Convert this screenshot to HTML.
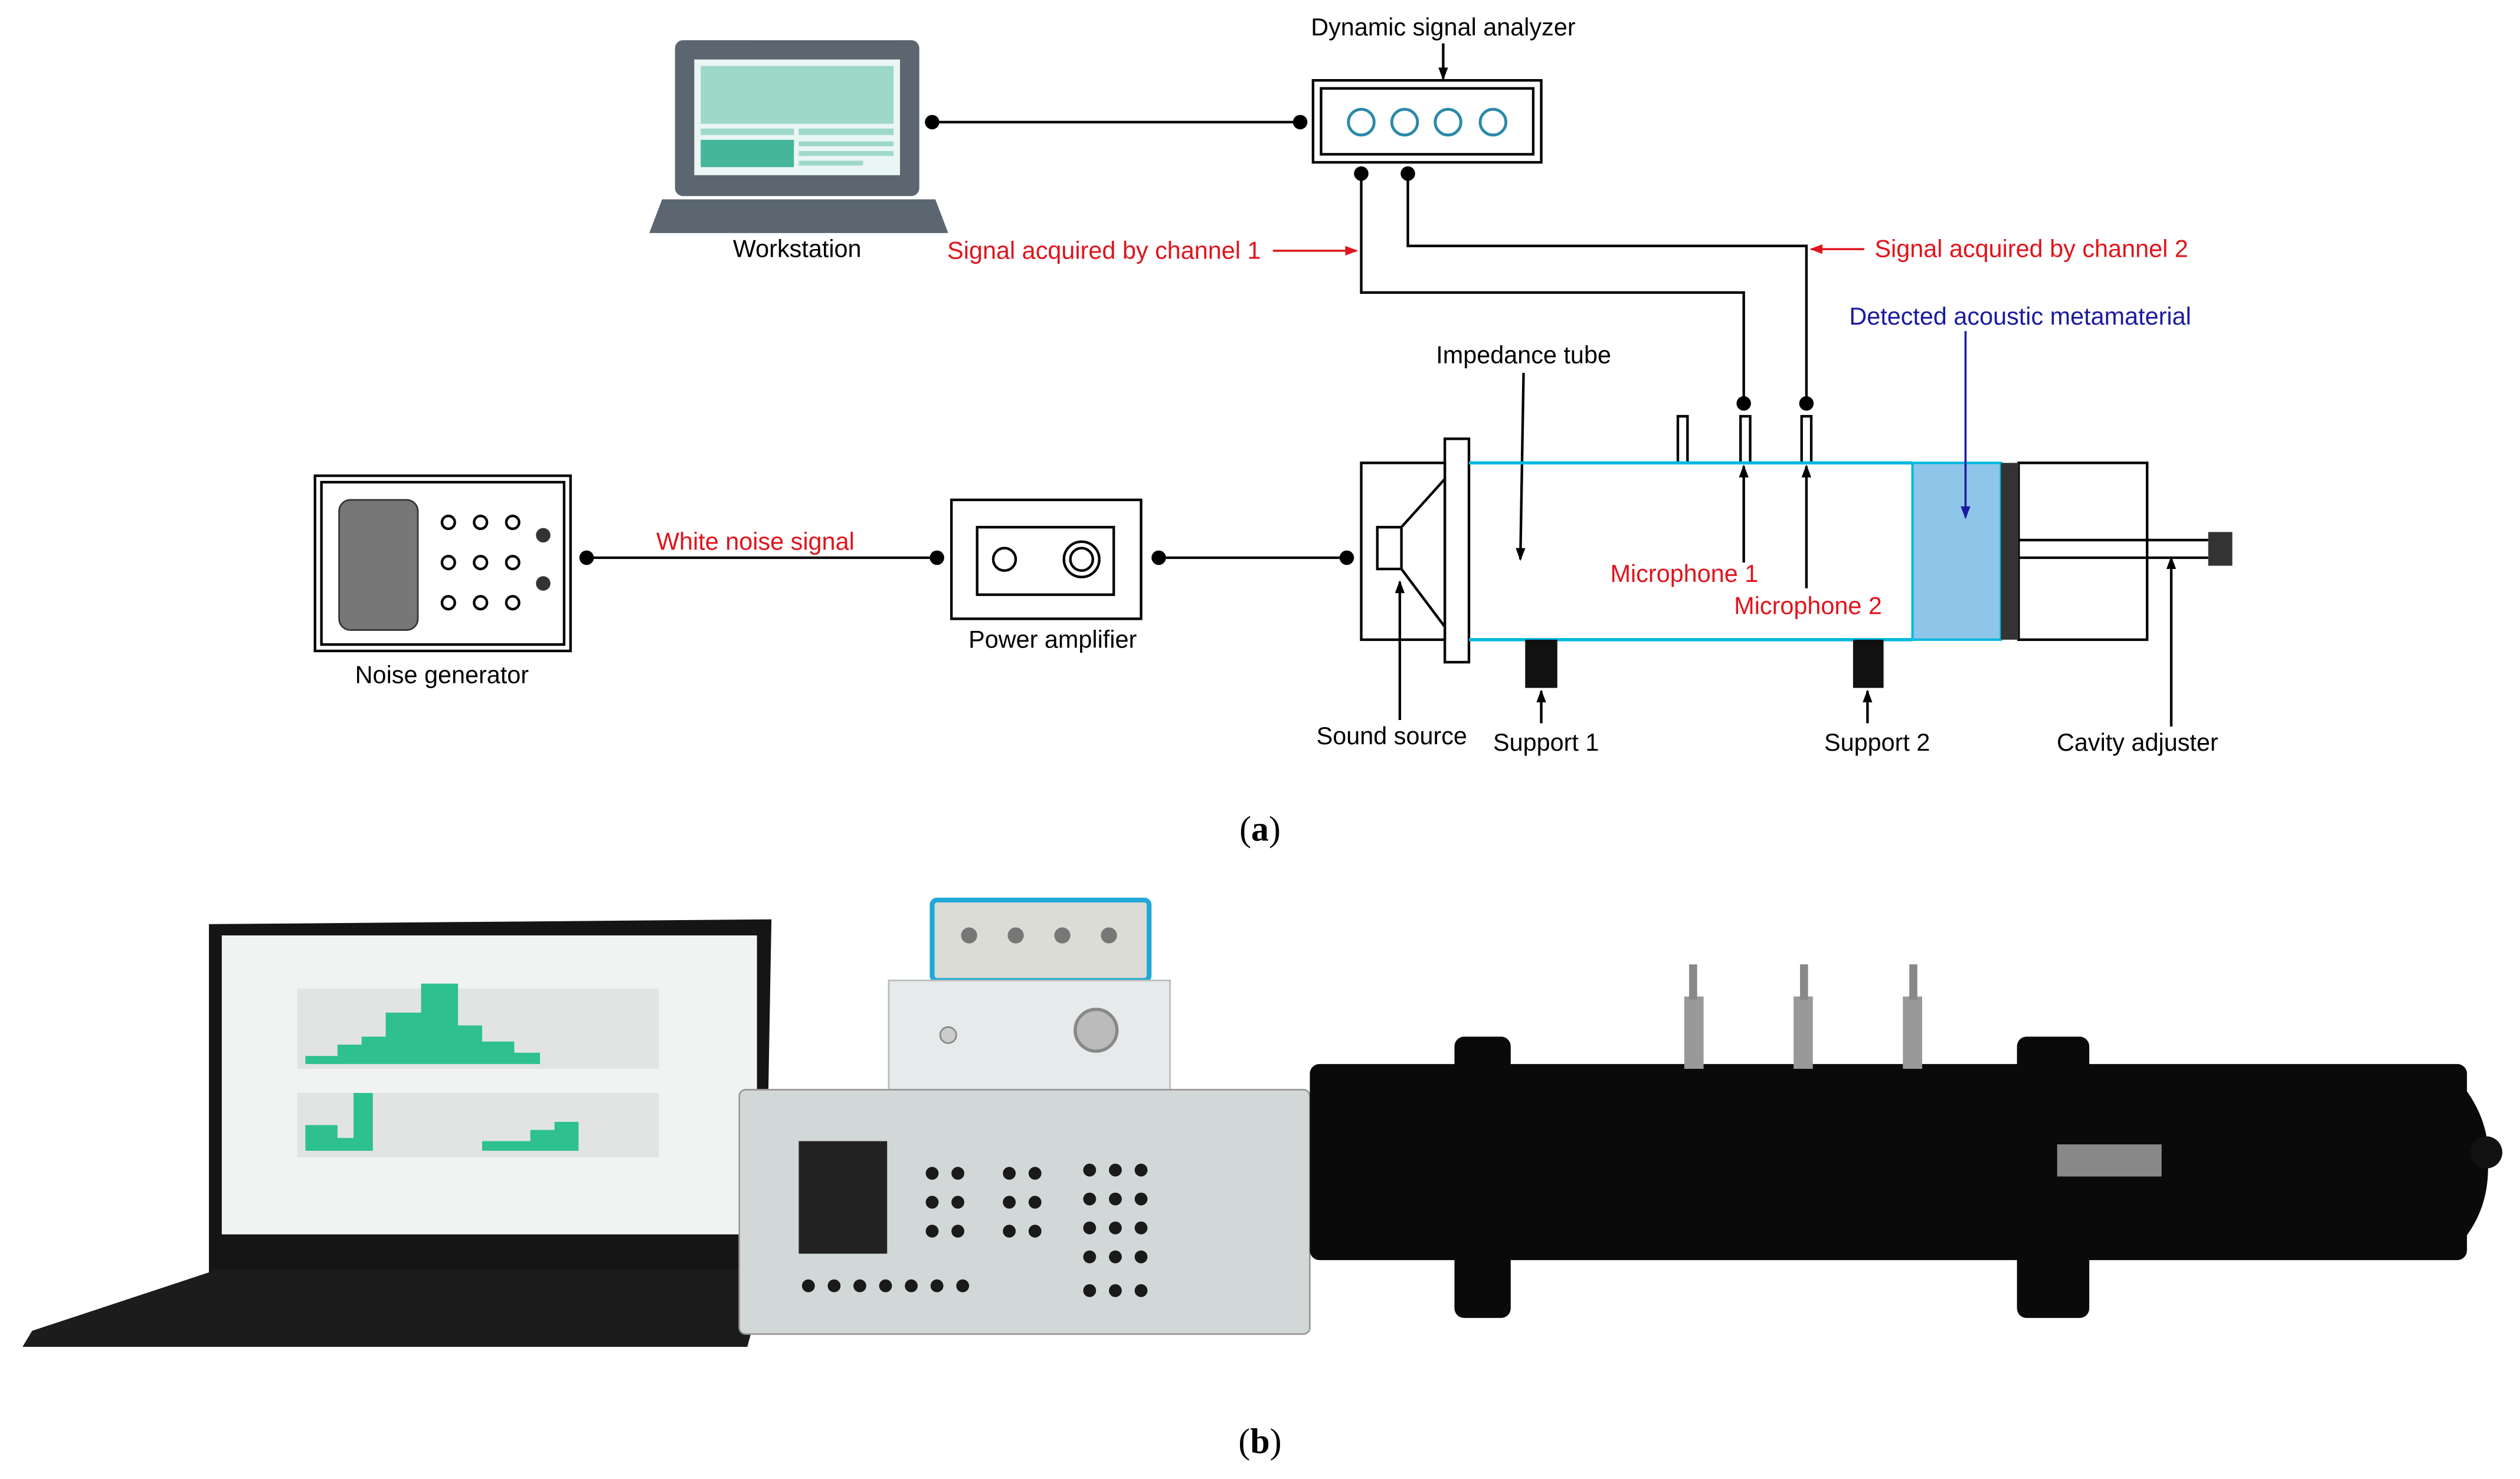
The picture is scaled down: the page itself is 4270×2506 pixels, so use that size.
<!DOCTYPE html>
<html><head><meta charset="utf-8"><style>
html,body{margin:0;padding:0;background:#fff;}
svg{display:block}
text{font-family:"Liberation Sans",sans-serif;font-size:15.2px;}
.r{fill:#e0141c}.b{fill:#1a1aa0}
</style></head><body>
<svg width="4270" height="2506" viewBox="0 0 1568 920.2" preserveAspectRatio="none" xmlns="http://www.w3.org/2000/svg">
<defs>
<marker id="ak" markerWidth="8" markerHeight="8" refX="7" refY="4" orient="auto" markerUnits="userSpaceOnUse"><path d="M0,1 L8,4 L0,7Z" fill="#000"/></marker>
<marker id="ar" markerWidth="8" markerHeight="8" refX="7" refY="4" orient="auto" markerUnits="userSpaceOnUse"><path d="M0,1 L8,4 L0,7Z" fill="#e0141c"/></marker>
<marker id="ab" markerWidth="8" markerHeight="8" refX="7" refY="4" orient="auto" markerUnits="userSpaceOnUse"><path d="M0,1 L8,4 L0,7Z" fill="#1a1aa0"/></marker>
</defs>
<!-- Workstation -->
<rect x="420" y="25" width="152" height="97" rx="5" fill="#5b6670"/>
<rect x="432" y="37" width="128" height="72" fill="#eaf6f3"/>
<rect x="436" y="41" width="120" height="36" fill="#9ed8c8"/>
<rect x="436" y="80" width="58" height="4" fill="#9ed8c8"/><rect x="497" y="80" width="59" height="4" fill="#9ed8c8"/>
<rect x="436" y="87" width="58" height="17" fill="#45b59b"/>
<rect x="497" y="88" width="59" height="3" fill="#9ed8c8"/><rect x="497" y="94" width="59" height="3" fill="#9ed8c8"/><rect x="497" y="100" width="40" height="3" fill="#9ed8c8"/>
<path d="M412,124 L582,124 L590,145 L404,145Z" fill="#5b6670"/>
<text x="496" y="160" text-anchor="middle">Workstation</text>
<g stroke="#000" stroke-width="1.6" fill="none">
<line x1="580" y1="76" x2="809" y2="76"/>
<rect x="817" y="50" width="142" height="51"/><rect x="822" y="55" width="132" height="41"/>
<polyline points="847,108 847,182 1085,182 1085,251"/>
<polyline points="876,108 876,153 1124,153 1124,251"/>
<line x1="898" y1="27" x2="898" y2="49" marker-end="url(#ak)"/>
<line x1="365" y1="347" x2="583" y2="347"/>
<line x1="721" y1="347" x2="838" y2="347"/>
<rect x="196" y="296" width="159" height="109"/><rect x="200" y="300" width="151" height="101"/>
<rect x="592" y="311" width="118" height="74"/><rect x="608" y="328" width="85" height="42"/>
<circle cx="625" cy="348" r="7"/><circle cx="673" cy="348" r="11"/><circle cx="673" cy="348" r="7"/>
<circle cx="279" cy="325" r="4"/><circle cx="299" cy="325" r="4"/><circle cx="319" cy="325" r="4"/>
<circle cx="279" cy="350" r="4"/><circle cx="299" cy="350" r="4"/><circle cx="319" cy="350" r="4"/>
<circle cx="279" cy="375" r="4"/><circle cx="299" cy="375" r="4"/><circle cx="319" cy="375" r="4"/>
<rect x="847" y="288" width="52" height="110"/>
<rect x="899" y="273" width="15" height="139"/>
<rect x="857" y="328" width="15" height="26"/>
<path d="M872,328 L899,298 M872,354 L899,390"/>
<rect x="1044" y="259" width="6" height="29"/><rect x="1083" y="259" width="6" height="29"/><rect x="1121" y="259" width="6" height="29"/>
<rect x="1256" y="288" width="80" height="110"/>
<line x1="1256" y1="336" x2="1374" y2="336"/><line x1="1256" y1="347" x2="1374" y2="347"/>
<line x1="948" y1="232" x2="946" y2="348" marker-end="url(#ak)"/>
<line x1="1085" y1="350" x2="1085" y2="290" marker-end="url(#ak)"/>
<line x1="1124" y1="366" x2="1124" y2="290" marker-end="url(#ak)"/>
<line x1="871" y1="448" x2="871" y2="362" marker-end="url(#ak)"/>
<line x1="959" y1="450" x2="959" y2="430" marker-end="url(#ak)"/>
<line x1="1162" y1="450" x2="1162" y2="430" marker-end="url(#ak)"/>
<line x1="1351" y1="452" x2="1351" y2="347" marker-end="url(#ak)"/>
</g>
<g fill="none" stroke="#2a8aa8" stroke-width="1.8"><circle cx="847" cy="76" r="8"/><circle cx="874" cy="76" r="8"/><circle cx="901" cy="76" r="8"/><circle cx="929" cy="76" r="8"/></g>
<g fill="#000"><circle cx="580" cy="76" r="4.5"/><circle cx="809" cy="76" r="4.5"/><circle cx="847" cy="108" r="4.5"/><circle cx="876" cy="108" r="4.5"/><circle cx="1085" cy="251" r="4.5"/><circle cx="1124" cy="251" r="4.5"/><circle cx="365" cy="347" r="4.5"/><circle cx="583" cy="347" r="4.5"/><circle cx="721" cy="347" r="4.5"/><circle cx="838" cy="347" r="4.5"/></g>
<rect x="211" y="311" width="49" height="81" rx="7" fill="#777" stroke="#333"/>
<circle cx="338" cy="333" r="4.5" fill="#333"/><circle cx="338" cy="363" r="4.5" fill="#333"/>
<line x1="914" y1="288" x2="1190" y2="288" stroke="#00b8e0" stroke-width="2"/>
<line x1="914" y1="398" x2="1190" y2="398" stroke="#00b8e0" stroke-width="2"/>
<rect x="1190" y="288" width="55" height="110" fill="#8ec5e8" stroke="#00b8e0" stroke-width="1.5"/>
<rect x="1245" y="288" width="11" height="110" fill="#333"/>
<rect x="1374" y="331" width="15" height="21" fill="#333"/>
<rect x="949" y="398" width="20" height="30" fill="#111"/><rect x="1153" y="398" width="19" height="30" fill="#111"/>
<line x1="792" y1="156" x2="844" y2="156" stroke="#e0141c" stroke-width="1.3" marker-end="url(#ar)"/>
<line x1="1160" y1="155" x2="1127" y2="155" stroke="#e0141c" stroke-width="1.3" marker-end="url(#ar)"/>
<line x1="1223" y1="206" x2="1223" y2="322" stroke="#1a1aa0" stroke-width="1.3" marker-end="url(#ab)"/>
<text x="898" y="22" text-anchor="middle">Dynamic signal analyzer</text>
<text x="687" y="161" text-anchor="middle" class="r">Signal acquired by channel 1</text>
<text x="1264" y="160" text-anchor="middle" class="r">Signal acquired by channel 2</text>
<text x="1257" y="202" text-anchor="middle" class="b">Detected acoustic metamaterial</text>
<text x="948" y="226" text-anchor="middle">Impedance tube</text>
<text x="470" y="342" text-anchor="middle" class="r">White noise signal</text>
<text x="1048" y="362" text-anchor="middle" class="r">Microphone 1</text>
<text x="1125" y="382" text-anchor="middle" class="r">Microphone 2</text>
<text x="275" y="425" text-anchor="middle">Noise generator</text>
<text x="655" y="403" text-anchor="middle">Power amplifier</text>
<text x="866" y="463" text-anchor="middle">Sound source</text>
<text x="962" y="467" text-anchor="middle">Support 1</text>
<text x="1168" y="467" text-anchor="middle">Support 2</text>
<text x="1330" y="467" text-anchor="middle">Cavity adjuster</text>
<text x="784" y="523" text-anchor="middle" style="font-family:'Liberation Serif',serif;font-size:22px">(<tspan font-weight="bold">a</tspan>)</text>
<text x="784" y="904" text-anchor="middle" style="font-family:'Liberation Serif',serif;font-size:22px">(<tspan font-weight="bold">b</tspan>)</text>
<!-- photo b -->
<path d="M130,575 L480,572 L476,795 L130,795Z" fill="#151515"/>
<rect x="138" y="582" width="333" height="186" fill="#f1f3f3"/>
<rect x="185" y="615" width="225" height="50" fill="#e2e4e4"/>
<path d="M190,662 L190,657 L210,657 L210,650 L225,650 L225,645 L240,645 L240,630 L262,630 L262,612 L285,612 L285,638 L300,638 L300,648 L320,648 L320,655 L336,655 L336,662Z" fill="#2ec08f"/>
<rect x="185" y="680" width="225" height="40" fill="#e2e4e4"/>
<path d="M190,716 L190,700 L210,700 L210,708 L220,708 L220,680 L232,680 L232,716Z M300,716 L300,710 L330,710 L330,703 L345,703 L345,698 L360,698 L360,716Z" fill="#2ec08f"/>
<path d="M135,790 L478,790 L465,838 L14,838 L20,828Z" fill="#1c1c1c"/>
<rect x="580" y="560" width="135" height="50" rx="3" fill="#dcdcd6" stroke="#1fa8d8" stroke-width="3"/>
<circle cx="603" cy="582" r="5" fill="#777"/><circle cx="632" cy="582" r="5" fill="#777"/><circle cx="661" cy="582" r="5" fill="#777"/><circle cx="690" cy="582" r="5" fill="#777"/>
<rect x="553" y="610" width="175" height="70" fill="#e6eaea" stroke="#bbb"/>
<circle cx="682" cy="641" r="13" fill="#bbb" stroke="#888" stroke-width="2"/><circle cx="590" cy="644" r="5" fill="#ccc" stroke="#888"/>
<rect x="460" y="678" width="355" height="152" rx="4" fill="#d2d8d8" stroke="#999"/>
<rect x="497" y="710" width="55" height="70" fill="#222"/>
<g fill="#1a1a1a">
<circle cx="580" cy="730" r="4"/><circle cx="596" cy="730" r="4"/><circle cx="580" cy="748" r="4"/><circle cx="596" cy="748" r="4"/><circle cx="580" cy="766" r="4"/><circle cx="596" cy="766" r="4"/>
<circle cx="628" cy="730" r="4"/><circle cx="644" cy="730" r="4"/><circle cx="628" cy="748" r="4"/><circle cx="644" cy="748" r="4"/><circle cx="628" cy="766" r="4"/><circle cx="644" cy="766" r="4"/>
<circle cx="678" cy="728" r="4"/><circle cx="694" cy="728" r="4"/><circle cx="710" cy="728" r="4"/><circle cx="678" cy="746" r="4"/><circle cx="694" cy="746" r="4"/><circle cx="710" cy="746" r="4"/><circle cx="678" cy="764" r="4"/><circle cx="694" cy="764" r="4"/><circle cx="710" cy="764" r="4"/><circle cx="678" cy="782" r="4"/><circle cx="694" cy="782" r="4"/><circle cx="710" cy="782" r="4"/>
<circle cx="503" cy="800" r="4"/><circle cx="519" cy="800" r="4"/><circle cx="535" cy="800" r="4"/><circle cx="551" cy="800" r="4"/><circle cx="567" cy="800" r="4"/><circle cx="583" cy="800" r="4"/><circle cx="599" cy="800" r="4"/>
<circle cx="678" cy="803" r="4"/><circle cx="694" cy="803" r="4"/><circle cx="710" cy="803" r="4"/>
</g>
<rect x="815" y="662" width="720" height="122" rx="6" fill="#0a0a0a"/>
<path d="M1520,662 Q1550,690 1548,722 Q1550,760 1520,784Z" fill="#0a0a0a"/>
<circle cx="1547" cy="717" r="10" fill="#111"/>
<rect x="905" y="645" width="35" height="175" rx="6" fill="#0a0a0a"/>
<rect x="1255" y="645" width="45" height="175" rx="6" fill="#0a0a0a"/>
<rect x="1048" y="620" width="12" height="45" fill="#999"/><rect x="1116" y="620" width="12" height="45" fill="#999"/><rect x="1184" y="620" width="12" height="45" fill="#999"/>
<rect x="1051" y="600" width="5" height="22" fill="#888"/><rect x="1120" y="600" width="5" height="22" fill="#888"/><rect x="1188" y="600" width="5" height="22" fill="#888"/>
<rect x="1280" y="712" width="65" height="20" fill="#888"/>
</svg>
</body></html>
